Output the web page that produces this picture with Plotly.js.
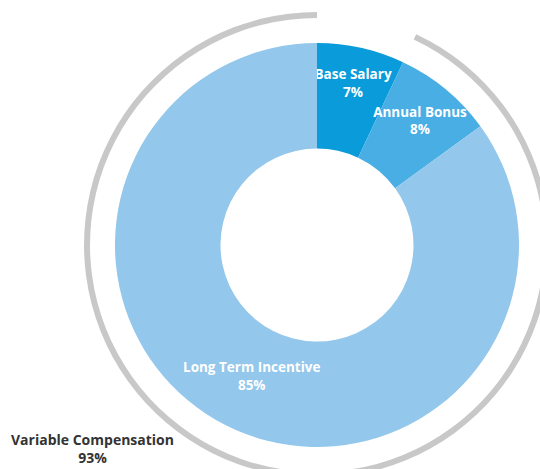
<!DOCTYPE html>
<html>
<head>
<meta charset="utf-8">
<script src="https://cdn.plot.ly/plotly-3.0.1.min.js"></script>
<style>
html,body{margin:0;padding:0;overflow:hidden;background:#fff;}
#chart{width:560px;height:490px;}
</style>
</head>
<body>
<div id="chart"></div>
<script>
// Data
var categories = ["Base Salary", "Annual Bonus", "Long Term Incentive"];
var shares = [7, 8, 85];
var groupLabels = ["Fixed", "Variable Compensation"];
var groupShares = [7, 93];

// Layout geometry (pixels)
var W = 560, H = 490;
var cx = 317, cy = 245;
var rInner = 202, rOuter = 233;
function dom(r) {
  return {
    x: [(cx - r) / W, (cx + r) / W],
    y: [1 - (cy + r) / H, 1 - (cy - r) / H]
  };
}
function px(x) { return x / W; }
function py(y) { return 1 - y / H; }

// labels drawn inside the pie for the small slices; the big slice label is placed as an annotation
var sliceText = categories.map(function (c, i) {
  return i < 2 ? c + "<br>" + shares[i] + "%" : "";
});

var labelFont = { family: "Open Sans, sans-serif", size: 13.5, color: "#ffffff", weight: "bold" };

var inner = {
  type: "pie",
  labels: categories,
  values: shares,
  text: sliceText,
  sort: false,
  direction: "clockwise",
  rotation: 0,
  hole: 96.5 / rInner,
  domain: dom(rInner),
  marker: { colors: ["#0A9BDB", "#49AEE4", "#93C7EB"], line: { width: 0 } },
  textinfo: "text",
  textposition: "inside",
  insidetextorientation: "horizontal",
  textfont: labelFont,
  hoverinfo: "label+value",
  showlegend: false
};

var outer = {
  type: "pie",
  labels: groupLabels,
  values: groupShares,
  sort: false,
  direction: "clockwise",
  rotation: 0,
  hole: 227 / rOuter,
  domain: dom(rOuter),
  marker: { colors: ["rgba(0,0,0,0)", "#C8C8C8"], line: { width: 0 } },
  textinfo: "none",
  hoverinfo: "skip",
  showlegend: false
};

var layout = {
  width: W,
  height: H,
  margin: { l: 0, r: 0, t: 0, b: 0 },
  paper_bgcolor: "#ffffff",
  showlegend: false,
  uniformtext: { mode: "show", minsize: 13.5 },
  annotations: [{
    xref: "paper", yref: "paper",
    x: px(251), y: py(376),
    xanchor: "center", yanchor: "middle",
    showarrow: false,
    text: categories[2] + "<br>" + shares[2] + "%",
    font: labelFont
  }, {
    xref: "paper", yref: "paper",
    x: px(92), y: py(448),
    xanchor: "center", yanchor: "middle",
    showarrow: false,
    text: groupLabels[1] + "<br>" + groupShares[1] + "%",
    font: { family: "Open Sans, sans-serif", size: 14, color: "#333333", weight: "bold" }
  }]
};

Plotly.newPlot("chart", [outer, inner], layout, { displayModeBar: false, staticPlot: true });
</script>
</body>
</html>
